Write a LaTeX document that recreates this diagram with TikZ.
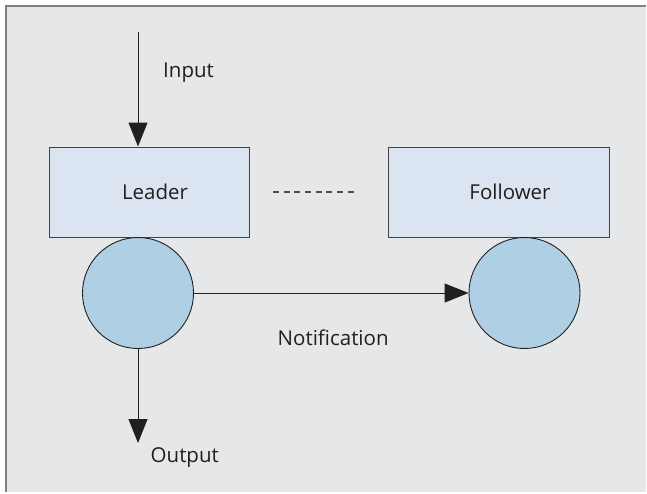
\documentclass[tikz,border=0pt]{standalone}
\usepackage{fontspec}
\setmainfont{Open Sans}
\usetikzlibrary{arrows.meta}
\definecolor{panel}{HTML}{E6E7E8}
\definecolor{paneledge}{HTML}{808080}
\definecolor{boxfill}{HTML}{DAE5F1}
\definecolor{ballfill}{HTML}{AFCFE5}
\definecolor{ink}{HTML}{231F20}
\tikzset{
  procbox/.style={draw=ink!85, line width=1pt, fill=boxfill, rectangle,
    minimum height=90pt, inner sep=0pt},
  ball/.style={draw=ink, line width=0.9pt, fill=ballfill, circle,
    minimum size=111pt, inner sep=0pt},
  flow/.style={draw=ink, line width=1pt, -{Triangle[length=24pt,width=19pt]}},
  txt/.style={font=\fontsize{20.5}{24}\selectfont, text=ink, inner sep=0pt},
}
\begin{document}
\begin{tikzpicture}[x=1pt, y=-1pt]
  \useasboundingbox (0,0) rectangle (647,493);
  % background panel with edge on top and left
  \fill[panel] (5,5) rectangle (646,492);
  \draw[paneledge, line width=2pt] (6,492) -- (6,6) -- (646,6);

  % replica boxes
  \node[procbox, minimum width=200pt] (leader) at (149,192) {};
  \node[procbox, minimum width=221pt] (follower) at (498.5,192) {};
  \node[txt, anchor=base] (leadertxt) at (155,199) {Leader};
  \node[txt, anchor=base] (followertxt) at (510,199) {Follower};

  % queues below the boxes
  \node[ball] (lq) at (138,293) {};
  \node[ball] (fq) at (524.5,293) {};

  % link between leader and follower
  \draw[ink!80, line width=1.3pt, dash pattern=on 6pt off 4.67pt]
    (273,192) -- (354,192);

  % input, output and notification flows
  \coordinate (in) at (138,32);
  \coordinate (out) at (138,443);
  \draw[flow] (in) -- (in |- leader.north);
  \draw[flow] (lq.south) -- (out);
  \draw[flow] (lq.east) -- (fq.west);

  \node[txt, anchor=base west] (inputtxt) at (163,77) {Input};
  \node[txt, anchor=base west] (outputtxt) at (150.5,462) {Output};
  \node[txt, anchor=base west] (notiftxt) at (277.5,345) {Notification};
\end{tikzpicture}
\end{document}
